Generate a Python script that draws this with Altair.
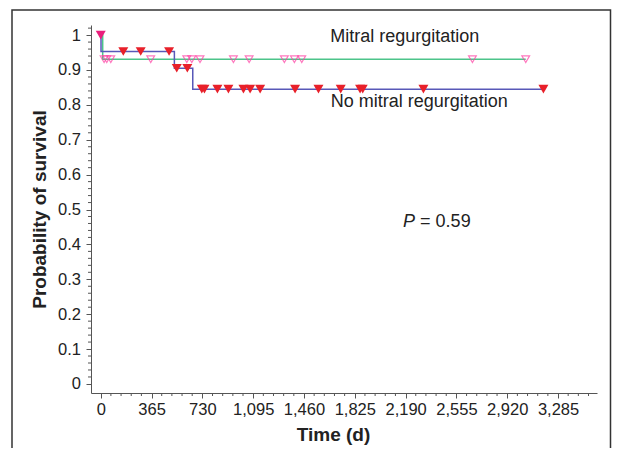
import altair as alt
import pandas as pd

# Kaplan-Meier step data (time in days, survival probability)
mr_times = [0, 14, 3053]
mr_surv = [1.0, 0.931, 0.931]
nomr_times = [0, 2, 529, 661, 3180]
nomr_surv = [1.0, 0.953, 0.905, 0.845, 0.845]

# Censored observations
mr_censor_times = [24, 43, 72, 359, 618, 654, 713, 953, 1066, 1319, 1391, 1444, 2670, 3053]
nomr_censor_times = [162, 287, 491, 546, 622, 726, 745, 838, 917, 1025, 1073, 1145,
                     1396, 1564, 1724, 1863, 1882, 2318, 3180]
start_point = [0]
start_surv = [1.0]

x_major = [0, 365, 730, 1095, 1460, 1825, 2190, 2555, 2920, 3285]
x_minor = [73 * k for k in range(49) if (73 * k) % 365 != 0]
y_major = [round(0.1 * k, 1) for k in range(11)]
y_minor = [round(0.02 * k, 2) for k in range(52) if k % 5 != 0]

labels_text = ["Mitral regurgitation", "No mitral regurgitation"]
labels_t = [1648, 1652]
labels_s = [0.995, 0.809]
p_label = "P"
p_value = "= 0.59"
p_t = [2172]
p_s = [0.465]


def surv_at(times, surv, t):
    val = surv[0]
    for tt, ss in zip(times, surv):
        if tt <= t:
            val = ss
    return val


FONT = "Liberation Sans"
AXC = "#555"

curves = pd.DataFrame({
    "time": mr_times + nomr_times,
    "surv": mr_surv + nomr_surv,
    "group": ["Mitral regurgitation"] * len(mr_times) + ["No mitral regurgitation"] * len(nomr_times),
})
mr_cens = pd.DataFrame({"time": mr_censor_times,
                        "surv": [surv_at(mr_times, mr_surv, t) for t in mr_censor_times]})
nomr_cens = pd.DataFrame({"time": nomr_censor_times,
                          "surv": [surv_at(nomr_times, nomr_surv, t) for t in nomr_censor_times]})
start_df = pd.DataFrame({"time": start_point, "surv": start_surv})
lab_df = pd.DataFrame({"time": labels_t, "surv": labels_s, "text": labels_text})
p_df = pd.DataFrame({"time": p_t, "surv": p_s})
xminor_df = pd.DataFrame({"time": x_minor})
yminor_df = pd.DataFrame({"surv": y_minor})

xscale = alt.Scale(domain=[-70, 3565], nice=False, zero=False)
yscale = alt.Scale(domain=[-0.026, 1.029], nice=False, zero=False)

xaxis = alt.Axis(
    title="Time (d)", values=x_major, tickCount=40, format=",d", tickSize=5,
    grid=False, labelOverlap=False, labelFlush=False, labelBound=False,
    domainColor=AXC, tickColor=AXC, labelColor="#222", labelFont=FONT, labelFontSize=16.5,
    labelPadding=3, titleFont=FONT, titleFontSize=19, titleFontWeight="bold", titleColor="#222",
    titlePadding=8, titleX=242,
)
yaxis = alt.Axis(
    title="Probability of survival", values=y_major, tickCount=40, format=".1~f", tickSize=5,
    grid=False, labelOverlap=False, labelFlush=False, labelBound=False,
    domainColor=AXC, tickColor=AXC, labelColor="#222", labelFont=FONT, labelFontSize=16.5,
    labelPadding=5.5, titleFont=FONT, titleFontSize=19, titleFontWeight="bold", titleColor="#222",
    titlePadding=8,
)

frame = alt.Chart(pd.DataFrame({"a": [0]})).mark_rect(
    fillOpacity=0, stroke="#333", strokeWidth=1.5
).encode(x=alt.value(-79), x2=alt.value(519.5), y=alt.value(-15), y2=alt.value(470))

lines = alt.Chart(curves).mark_line(interpolate="step-after", strokeWidth=1.5).encode(
    x=alt.X("time:Q", scale=xscale, axis=xaxis),
    y=alt.Y("surv:Q", scale=yscale, axis=yaxis),
    color=alt.Color("group:N", scale=alt.Scale(
        domain=["Mitral regurgitation", "No mitral regurgitation"],
        range=["#4cc48a", "#5858b8"]), legend=None),
    detail="group:N",
)

xminor = alt.Chart(xminor_df).mark_rule(color=AXC, strokeWidth=1).encode(
    x=alt.X("time:Q", scale=xscale), y=alt.value(368), y2=alt.value(371))
yminor = alt.Chart(yminor_df).mark_rule(color=AXC, strokeWidth=1).encode(
    y=alt.Y("surv:Q", scale=yscale), x=alt.value(-3), x2=alt.value(0))

mr_pts = alt.Chart(mr_cens).mark_point(
    shape="triangle-down", filled=False, color="#ff3fa4", size=60, strokeWidth=1.2
).encode(x=alt.X("time:Q", scale=xscale), y=alt.Y("surv:Q", scale=yscale))

nomr_pts = alt.Chart(nomr_cens).mark_point(
    shape="triangle-down", filled=True, color="#e8202a", size=100, opacity=1
).encode(x=alt.X("time:Q", scale=xscale), y=alt.Y("surv:Q", scale=yscale))

start_pts = alt.Chart(start_df).mark_point(
    shape="triangle-down", filled=True, color="#ea1f7c", size=100, opacity=1
).encode(x=alt.X("time:Q", scale=xscale), y=alt.Y("surv:Q", scale=yscale))

labels = alt.Chart(lab_df).mark_text(
    align="left", baseline="middle", font=FONT, fontSize=18, color="#222"
).encode(x=alt.X("time:Q", scale=xscale), y=alt.Y("surv:Q", scale=yscale), text="text:N")

p1 = alt.Chart(p_df).mark_text(
    align="left", baseline="middle", font=FONT, fontSize=18, fontStyle="italic", color="#222", text=p_label
).encode(x=alt.X("time:Q", scale=xscale), y=alt.Y("surv:Q", scale=yscale))
p2 = alt.Chart(p_df).mark_text(
    align="left", baseline="middle", font=FONT, fontSize=18, color="#222", text=p_value, dx=17
).encode(x=alt.X("time:Q", scale=xscale), y=alt.Y("surv:Q", scale=yscale))

chart = alt.layer(frame, lines, xminor, yminor, mr_pts, nomr_pts, start_pts, labels, p1, p2).properties(
    width=506, height=368,
    autosize=alt.AutoSizeParams(type="none"),
    padding={"left": 83, "top": 17, "right": 15, "bottom": 55},
    background="white",
).configure_view(stroke="transparent")

chart.save("out.html", embed_options={"renderer": "svg", "actions": False})
